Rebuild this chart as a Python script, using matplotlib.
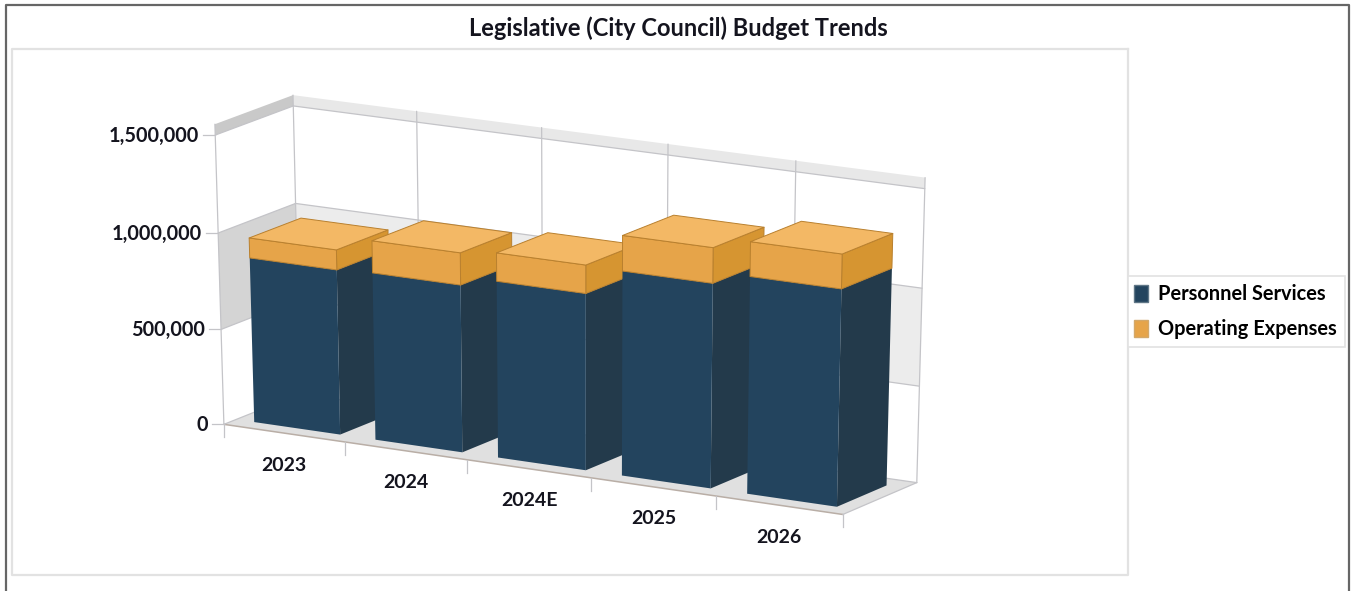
import matplotlib.pyplot as plt
from matplotlib.patches import Patch, Polygon, Rectangle
import numpy as np

# Budget amounts in dollars
years = ['2023', '2024', '2024E', '2025', '2026']
personnel = [860000, 870000, 915000, 1055000, 1115000]
operating = [103000, 165000, 145000, 180000, 175000]
y_ticks = [0, 500000, 1000000, 1500000]
y_top = 1555000

plt.rcParams['font.family'] = ['Lato', 'DejaVu Sans']

# Camera for the 3D box: (slot, value in millions, depth) -> canvas pixels
box_pts = np.array([
    [0, 0, 0], [1, 0, 0], [2, 0, 0], [3, 0, 0], [4, 0, 0], [5, 0, 0],
    [0, 0, 1], [5, 0, 1],
    [0, 0.5, 0], [0, 1, 0], [0, 1.5, 0],
    [0, 1, 1], [0, 1.5, 1],
    [5, 0.5, 1], [5, 1, 1], [5, 1.5, 1],
], dtype=float)
canvas_pts = np.array([
    [224, 424], [344, 442], [467, 460], [592, 478], [716, 496], [843, 514],
    [300, 394], [917, 483],
    [222, 330], [218, 233], [215, 135],
    [296, 203], [293, 106],
    [919, 386], [922, 288], [925, 189],
], dtype=float)


def fit_camera(world, image):
    rows = []
    for (x, y, z), (u, v) in zip(world, image):
        rows.append([x, y, z, 1, 0, 0, 0, 0, -u * x, -u * y, -u * z, -u])
        rows.append([0, 0, 0, 0, x, y, z, 1, -v * x, -v * y, -v * z, -v])
    return np.linalg.svd(np.array(rows))[2][-1].reshape(3, 4)


camera = fit_camera(box_pts, canvas_pts)


def project(slot, value, depth):
    h = camera @ np.array([slot, value / 1e6, depth, 1.0])
    return h[:2] / h[2]


def face(ax, corners, color, edge='none', lw=0.0, zorder=1):
    pts = [project(*c) for c in corners]
    ax.add_patch(Polygon(pts, closed=True, facecolor=color, edgecolor=edge,
                         linewidth=lw, zorder=zorder, joinstyle='round'))


def line3d(ax, a, b, color='#c4c4c8', lw=0.9, zorder=2):
    p, q = project(*a), project(*b)
    ax.plot([p[0], q[0]], [p[1], q[1]], color=color, lw=lw, zorder=zorder,
            solid_capstyle='round')


def draw_box(ax, x0, x1, z0, z1, v0, v1, front, side, order, top=None, edge='none'):
    face(ax, [(x1, v0, z0), (x1, v0, z1), (x1, v1, z1), (x1, v1, z0)], side, edge, 0.7, order)
    face(ax, [(x0, v0, z0), (x1, v0, z0), (x1, v1, z0), (x0, v1, z0)], front, edge, 0.7, order)
    if top is not None:
        face(ax, [(x0, v1, z0), (x1, v1, z0), (x1, v1, z1), (x0, v1, z1)], top, edge, 0.7, order)


fig = plt.figure(figsize=(13.51, 5.91), dpi=100)
ax = fig.add_axes([0, 0, 1, 1])
ax.set_xlim(0, 1351)
ax.set_ylim(591, 0)
ax.axis('off')

# Outer page border and the lighter chart frame
ax.plot([5.5, 5.5, 1349, 1349], [591, 4.5, 4.5, 591], color='#666666', lw=1.6)
ax.plot([1128, 11.5, 11.5, 1128, 1128], [48.5, 48.5, 575, 575, 48.5], color='#e2e2e2', lw=1.6)

ax.text(678.5, 28, 'Legislative (City Council) Budget Trends', ha='center', va='center',
        fontsize=17, fontweight='bold', color='#14141e')

# Floor and wall stripes
n = len(years)
face(ax, [(0, 0, 0), (n, 0, 0), (n, 0, 1), (0, 0, 1)], '#e0e0e0')
line3d(ax, (0, 0, 0), (n, 0, 0), color='#b9aea6', lw=1.1)
face(ax, [(0, 500000, 0), (0, 1000000, 0), (0, 1000000, 1), (0, 500000, 1)], '#d4d4d4')
face(ax, [(0, 500000, 1), (0, 1000000, 1), (n, 1000000, 1), (n, 500000, 1)], '#ececec')
face(ax, [(0, 1500000, 0), (0, y_top, 0), (0, y_top, 1), (0, 1500000, 1)], '#c9c9c9')
face(ax, [(0, 1500000, 1), (0, y_top, 1), (n, y_top, 1), (n, 1500000, 1)], '#e8e8e8')

# Gridlines on the side wall and back wall
for v in y_ticks:
    line3d(ax, (0, v, 0), (0, v, 1))
    line3d(ax, (0, v, 1), (n, v, 1))
    p = project(0, v, 0)
    ax.plot([p[0] - 12, p[0]], [p[1], p[1]], color='#c4c4c8', lw=0.9, zorder=2)
    ax.text(p[0] - 16, p[1] + 1, f'{v:,}', ha='right', va='center', fontsize=14.3,
            fontweight='bold', color='#14141e')
for i in range(n + 1):
    line3d(ax, (i, 0, 1), (i, y_top, 1))
line3d(ax, (0, 0, 0), (0, y_top, 0))
line3d(ax, (n, 0, 0), (n, 0, 1))

# Category ticks and labels along the front edge
for i in range(n + 1):
    p = project(i, 0, 0)
    ax.plot([p[0], p[0]], [p[1], p[1] + 13], color='#c4c4c8', lw=0.9, zorder=2)
for i, year in enumerate(years):
    p = project(i + 0.5, 0, 0)
    ax.text(p[0], p[1] + 32, year, ha='center', va='center', fontsize=14,
            fontweight='bold', color='#14141e')

# Stacked bars, left to right so nearer ones overlap
x_start, x_end = 0.15, 0.86
z_front, z_back = 0.16, 0.83
for i in range(n):
    x0, x1 = i + x_start, i + x_end
    draw_box(ax, x0, x1, z_front, z_back, 0, personnel[i], '#23445e', '#233a4b', 5 + i)
    draw_box(ax, x0, x1, z_front, z_back, personnel[i], personnel[i] + operating[i],
             '#e6a449', '#d69531', 5 + i, top='#f3b865', edge='#b9802e')

# Legend box sits against the chart frame, entries are placed inside it
ax.add_patch(Rectangle((1128, 276), 217, 71, facecolor='white', edgecolor='#e2e2e2', lw=1.2, zorder=3))
handles = [Patch(facecolor='#23445e', edgecolor='#5f7686', label='Personnel Services'),
           Patch(facecolor='#e6a449', edgecolor='#d3a869', label='Operating Expenses')]
leg = ax.legend(handles=handles, loc='center left', bbox_to_anchor=(1133.5 / 1351, 1 - 311.5 / 591),
                bbox_transform=fig.transFigure, borderaxespad=0, borderpad=0, frameon=False,
                handlelength=0.74, handleheight=0.95, handletextpad=0.46, labelspacing=0.75,
                prop={'weight': 'bold', 'size': 14.4})
leg.set_zorder(20)

fig.savefig('out.png', dpi=100)
